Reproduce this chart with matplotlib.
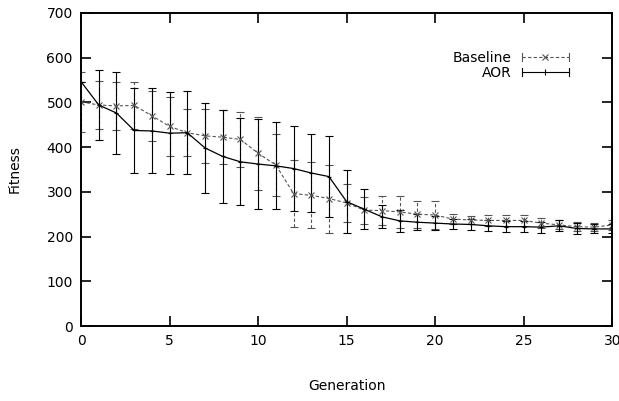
import matplotlib
matplotlib.use("Agg")
import matplotlib.pyplot as plt
from matplotlib.lines import Line2D
from matplotlib.legend_handler import HandlerBase

plt.rcParams['font.family'] = ['DejaVu Sans']

generations = list(range(31))
baseline = [501, 494, 492, 493, 470, 446, 432, 425, 422, 417, 386, 360, 296, 292, 285, 275,
            259, 258, 255, 250, 248, 239, 237, 236, 236, 236, 230, 226, 222, 221, 226]
baseline_err = [67, 54, 54, 53, 56, 66, 52, 60, 60, 62, 82, 70, 75, 74, 76, 42,
                30, 33, 36, 30, 32, 11, 10, 12, 12, 12, 12, 10, 10, 9, 12]
aor = [546, 494, 476, 437, 436, 431, 432, 398, 379, 367, 362, 358, 352, 342, 334, 278,
       261, 244, 235, 232, 230, 228, 227, 224, 222, 222, 221, 224, 218, 217, 217]
aor_err = [0, 79, 92, 95, 95, 92, 93, 100, 103, 97, 100, 97, 94, 88, 90, 70,
           45, 26, 24, 18, 16, 12, 12, 12, 12, 12, 12, 12, 12, 10, 10]

BASE_COLOR = '#555555'
DASH = (0, (3, 2))


class GnuplotErrHandler(HandlerBase):
    def __init__(self, color, ls, marker, ms):
        super().__init__()
        self.color, self.ls, self.marker, self.ms = color, ls, marker, ms

    def create_artists(self, legend, orig_handle, xdescent, ydescent, width, height,
                       fontsize, trans):
        y = height / 2 - ydescent
        x0, x1 = -xdescent, width - xdescent
        cap = 3.0
        arts = [
            Line2D([x0, x1], [y, y], color=self.color, ls=self.ls, lw=0.8),
            Line2D([x0, x0], [y - cap, y + cap], color=self.color, lw=0.8),
            Line2D([x1, x1], [y - cap, y + cap], color=self.color, lw=0.8),
            Line2D([(x0 + x1) / 2], [y], color=self.color, marker=self.marker,
                   ms=self.ms, mew=0.8, ls='none'),
        ]
        for a in arts:
            a.set_transform(trans)
        return arts


fig = plt.figure(figsize=(6.19, 4.01), dpi=100)
ax = fig.add_axes([0.131, 0.187, 0.858, 0.781])

eb1 = ax.errorbar(generations, baseline, yerr=baseline_err, color=BASE_COLOR, lw=0.8,
                  ls=DASH, marker='x', ms=5, mew=0.8, capsize=3, elinewidth=0.8,
                  capthick=0.8, label='Baseline')
eb1[2][0].set_linestyle(DASH)
eb2 = ax.errorbar(generations, aor, yerr=aor_err, color='black', lw=0.9, ls='-',
                  marker='+', ms=3, mew=0.8, capsize=3, elinewidth=0.8, capthick=0.8,
                  label='AOR')

ax.set_xlim(0, 30)
ax.set_ylim(0, 700)
ax.set_xticks(range(0, 31, 5))
ax.set_yticks(range(0, 701, 100))
ax.tick_params(direction='in', top=True, right=True, length=7, width=1.2,
               labelsize=10, pad=6)
for s in ax.spines.values():
    s.set_linewidth(1.4)

ax.set_xlabel('Generation', fontsize=10, labelpad=22)
ax.set_ylabel('Fitness', fontsize=10, labelpad=18)

leg = ax.legend(handles=[eb1, eb2], labels=['Baseline', 'AOR'], loc='upper right',
                bbox_to_anchor=(0.942, 0.918), frameon=False, markerfirst=False,
                fontsize=10, handlelength=3.4, handletextpad=0.7, labelspacing=0.05,
                handler_map={eb1: GnuplotErrHandler(BASE_COLOR, DASH, 'x', 4),
                             eb2: GnuplotErrHandler('black', '-', '|', 4)})
for t in leg.get_texts():
    t.set_ha('right')

fig.savefig('out.png', dpi=100)
